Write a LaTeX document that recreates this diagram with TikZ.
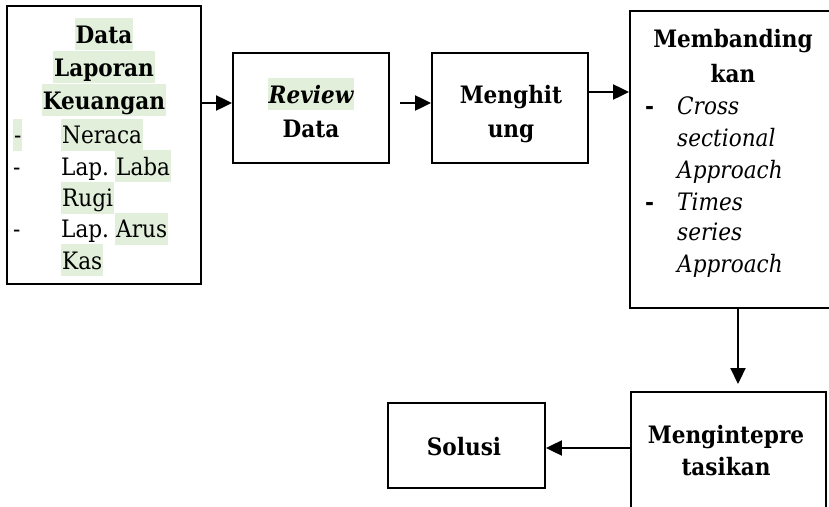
\documentclass[tikz,border=0pt]{standalone}
\usepackage{fontspec}
\setmainfont[FakeStretch=0.9]{DejaVu Serif}
\usetikzlibrary{arrows.meta}
\definecolor{hlc}{RGB}{226,239,218}
\begin{document}
\begin{tikzpicture}[x=1pt,y=-1pt,
  box/.style={draw, line width=1.9pt, rectangle, inner sep=0pt},
  txt/.style={inner sep=0pt, anchor=base, font=\fontsize{24}{28}\selectfont},
  bf/.style={txt, font=\fontsize{24}{28}\selectfont\bfseries},
  it/.style={txt, font=\fontsize{24}{28}\selectfont\itshape},
  bi/.style={txt, font=\fontsize{24}{28}\selectfont\bfseries\itshape},
  hl/.style={fill=hlc, inner xsep=1pt, inner ysep=0pt, text height=25pt, text depth=7pt},
  arr/.style={line width=2.2pt, -{Triangle[length=16pt,width=15pt]}}
]
\clip (0,0) rectangle (829,506);
\fill[white] (0,0) rectangle (829,506);

% boxes
\node[box, minimum width=194pt, minimum height=278pt] (b1) at (104,145) {};
\node[box, minimum width=156pt, minimum height=110pt] (b2) at (311,108) {};
\node[box, minimum width=156pt, minimum height=110pt] (b3) at (510,108) {};
\node[box, minimum width=206pt, minimum height=297pt] (b4) at (733,159.5) {};
\node[box, minimum width=195pt, minimum height=140pt] (b5) at (728.5,462) {};
\node[box, minimum width=157pt, minimum height=85pt] (b6) at (466.5,445.5) {};

% box 1 text
\node[bf,hl] (t1a) at (104,43) {Data};
\node[bf,hl] (t1b) at (104,76) {Laporan};
\node[bf,hl] (t1c) at (104,109) {Keuangan};
\node[txt,hl,anchor=base west] (d1) at (13,143.5) {-};
\node[txt,hl,anchor=base west] (t1d) at (61,143.5) {Neraca};
\node[txt,anchor=base west] (d2) at (13,175) {-};
\node[txt,anchor=base west] (t1e) at (61,175) {Lap.};
\node[txt,hl,anchor=base west] (t1f) at (115,175) {Laba};
\node[txt,hl,anchor=base west] (t1g) at (61,206.5) {Rugi};
\node[txt,anchor=base west] (d3) at (13,237.5) {-};
\node[txt,anchor=base west] (t1h) at (61,237.5) {Lap.};
\node[txt,hl,anchor=base west] (t1i) at (115,237.5) {Arus};
\node[txt,hl,anchor=base west] (t1j) at (61,269) {Kas};

% box 2 text
\node[bi,hl] (t2a) at (311,103) {Review};
\node[bf] (t2b) at (311,137) {Data};

% box 3 text
\node[bf] (t3a) at (511,103) {Menghit};
\node[bf] (t3b) at (511,137) {ung};

% box 4 text
\node[bf] (t4a) at (733,47) {Membanding};
\node[bf] (t4b) at (733,82) {kan};
\node[bf,anchor=base west] (d4) at (645,114) {-};
\node[it,anchor=base west] (t4c) at (677,114) {Cross};
\node[it,anchor=base west] (t4d) at (677,146) {sectional};
\node[it,anchor=base west] (t4e) at (677,178) {Approach};
\node[bf,anchor=base west] (d5) at (645,210) {-};
\node[it,anchor=base west] (t4f) at (677,210) {Times};
\node[it,anchor=base west] (t4g) at (677,240) {series};
\node[it,anchor=base west] (t4h) at (677,272) {Approach};

% box 5 text
\node[bf] (t5a) at (726,443) {Mengintepre};
\node[bf] (t5b) at (726,475) {tasikan};

% box 6 text
\node[bf] (t6) at (464,455) {Solusi};

% connectors
\coordinate (y1) at (0,103);
\coordinate (a2s) at (400,103);
\coordinate (y3) at (0,92);
\coordinate (x4) at (738,0);
\coordinate (a4e) at (738,384);
\coordinate (y5) at (0,448);
\draw[arr] (b1.east |- y1) -- (b2.west |- y1);
\draw[arr] (a2s) -- (b3.west |- a2s);
\draw[arr] (b3.east |- y3) -- (b4.west |- y3);
\draw[arr] (b4.south -| x4) -- (a4e);
\draw[arr] (b5.west |- y5) -- (b6.east |- y5);
\end{tikzpicture}
\end{document}
